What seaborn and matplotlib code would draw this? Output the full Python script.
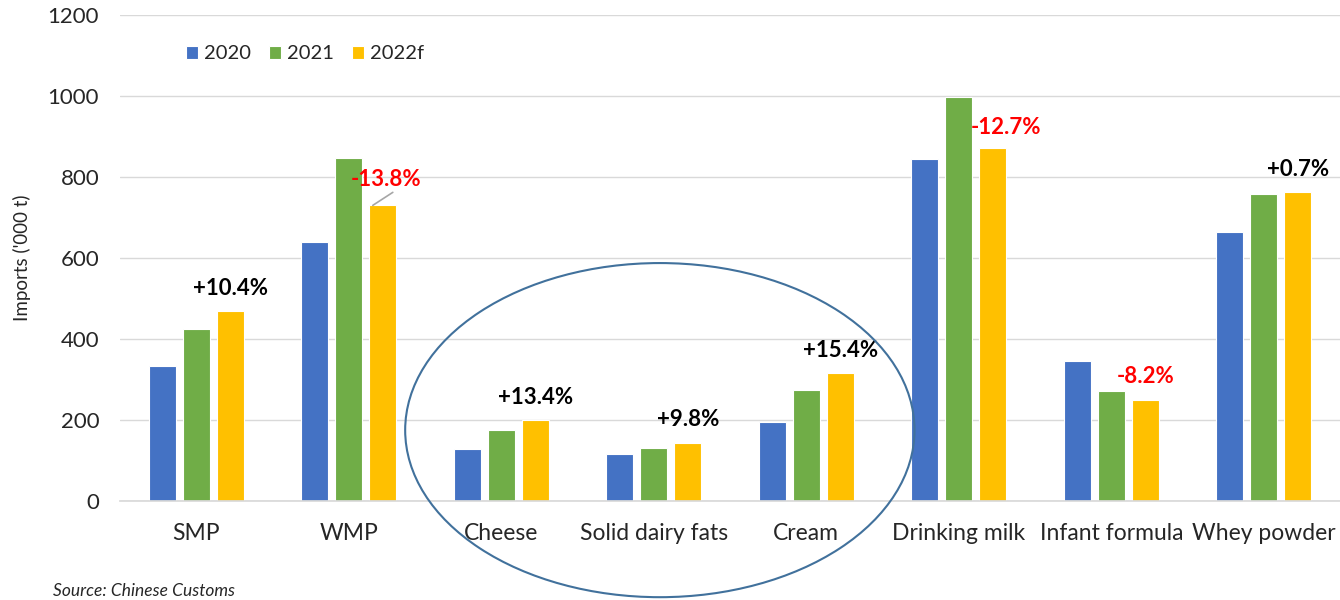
import matplotlib
matplotlib.use("Agg")
import matplotlib.pyplot as plt
import seaborn as sns
import pandas as pd
from matplotlib.patches import Ellipse

categories = ["SMP", "WMP", "Cheese", "Solid dairy fats", "Cream",
              "Drinking milk", "Infant formula", "Whey powder"]
years = ["2020", "2021", "2022f"]
v2020 = [334, 639, 128, 116, 195, 845, 346, 664]
v2021 = [425, 847, 176, 131, 274, 998, 272, 757]
v2022 = [469, 730, 200, 144, 316, 871, 250, 762]
pct_labels = ["+10.4%", "-13.8%", "+13.4%", "+9.8%", "+15.4%", "-12.7%", "-8.2%", "+0.7%"]
yticks = [0, 200, 400, 600, 800, 1000, 1200]

colors = ["#4472C4", "#70AD47", "#FFC000"]

rows = []
for y, vals in zip(years, [v2020, v2021, v2022]):
    for c, v in zip(categories, vals):
        rows.append({"cat": c, "year": y, "val": v})
df = pd.DataFrame(rows)

sns.set_theme(style="white")
plt.rcParams["font.family"] = ["Lato", "DejaVu Sans"]

fig = plt.figure(figsize=(13.4, 6), dpi=100)
ax = fig.add_axes([120 / 1340, 99 / 600, 1220 / 1340, 486 / 600])

sns.barplot(data=df, x="cat", y="val", hue="year", order=categories,
            hue_order=years, palette=colors, width=0.67, gap=0.2,
            edgecolor="white", linewidth=0.8, saturation=1, ax=ax,
            legend=True)

ax.set_ylim(0, 1200)
ax.set_xlim(-0.5, len(categories) - 0.5)
ax.set_yticks(yticks)
ax.set_yticklabels([str(t) for t in yticks], fontsize=16)
ax.tick_params(axis="x", labelsize=16.5, length=0, pad=16)
ax.tick_params(axis="y", length=0, pad=15)
for t in ax.get_xticklabels():
    t.set_color("#262626")
for t in ax.get_yticklabels():
    t.set_color("#262626")
ax.set_xlabel("")
ax.set_ylabel("Imports ('000 t)", fontsize=13.5, color="#262626", labelpad=12)
ax.grid(axis="y", color="#d9d9d9", linewidth=1)
ax.set_axisbelow(True)
for s in ["top", "right", "left"]:
    ax.spines[s].set_visible(False)
ax.spines["bottom"].set_color("#d9d9d9")

leg = ax.legend(loc="upper left", bbox_to_anchor=(0.039, 0.975), ncol=3,
                frameon=False, fontsize=14.5, handlelength=0.6, handleheight=0.6,
                columnspacing=0.9, handletextpad=0.3)

# percentage labels above 2022f bars
gold = ax.containers[2]
px_x = 1 / 152.5
px_y = 1 / 0.405
for i, (p, lab) in enumerate(zip(gold.patches, pct_labels)):
    cx = p.get_x() + p.get_width() / 2
    top = p.get_height()
    color = "red" if lab.startswith("-") else "black"
    dx, dy = 0, 23
    if lab == "-13.8%":
        dx, dy = 3, 26
    if lab == "-12.7%":
        dx, dy = 13, 21
    ax.text(cx + dx * px_x, top + dy * px_y, lab, ha="center", va="center",
            fontsize=16, fontweight="bold", color=color)
    if lab == "-13.8%":
        ax.plot([cx - 10 * px_x, cx + 10 * px_x], [top, top + 13 * px_y],
                color="#a6a6a6", linewidth=1.2)

# ellipse highlighting the three categories
ell = Ellipse((3.04, 175), width=3.34, height=825, fill=False,
              edgecolor="#41719C", linewidth=1.5, clip_on=False, zorder=5)
ax.add_patch(ell)

fig.text(53 / 1340, 1 / 600, "Source: Chinese Customs", fontsize=12.5,
         style="italic", color="#262626", va="bottom", ha="left")

fig.savefig("out.png", dpi=100)
